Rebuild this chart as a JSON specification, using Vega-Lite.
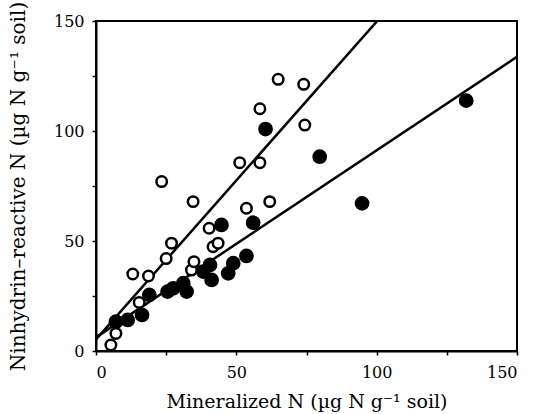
{
  "$schema": "https://vega.github.io/schema/vega-lite/v6.json",
  "autosize": "none",
  "padding": {"left": 96, "top": 21, "right": 22, "bottom": 63},
  "width": 421,
  "height": 330,
  "background": "white",
  "config": {
    "view": {"stroke": "black", "strokeWidth": 2},
    "font": "DejaVu Serif",
    "axis": {
      "domainColor": "black", "domainWidth": 2, "tickColor": "black", "tickWidth": 1.5,
      "tickSize": 4, "grid": false, "labelFont": "DejaVu Serif", "labelFontSize": 16,
      "labelColor": "black", "titleFont": "DejaVu Serif",
      "titleFontWeight": "normal", "titleColor": "black"
    }
  },
  "datasets": {
    "pts": [
      {"x": 5.3, "y": 2.7, "g": "open"}, {"x": 7.1, "y": 8.0, "g": "open"}, {"x": 15.4, "y": 22.1, "g": "open"},
      {"x": 13.1, "y": 35.0, "g": "open"}, {"x": 18.7, "y": 34.1, "g": "open"}, {"x": 25.0, "y": 42.0, "g": "open"},
      {"x": 26.9, "y": 49.0, "g": "open"}, {"x": 34.0, "y": 36.8, "g": "open"}, {"x": 34.9, "y": 40.6, "g": "open"},
      {"x": 23.4, "y": 77.0, "g": "open"}, {"x": 34.6, "y": 67.9, "g": "open"}, {"x": 41.7, "y": 47.4, "g": "open"},
      {"x": 43.5, "y": 49.0, "g": "open"}, {"x": 40.3, "y": 55.8, "g": "open"}, {"x": 53.6, "y": 64.9, "g": "open"},
      {"x": 61.9, "y": 67.9, "g": "open"}, {"x": 51.2, "y": 85.6, "g": "open"}, {"x": 58.4, "y": 85.6, "g": "open"},
      {"x": 58.4, "y": 110.1, "g": "open"}, {"x": 64.9, "y": 123.5, "g": "open"}, {"x": 74.0, "y": 121.2, "g": "open"},
      {"x": 74.4, "y": 102.7, "g": "open"},
      {"x": 7.1, "y": 13.3, "g": "filled"}, {"x": 11.3, "y": 14.1, "g": "filled"}, {"x": 16.4, "y": 16.4, "g": "filled"},
      {"x": 19.0, "y": 25.5, "g": "filled"}, {"x": 25.5, "y": 27.0, "g": "filled"}, {"x": 27.5, "y": 28.5, "g": "filled"},
      {"x": 31.1, "y": 30.8, "g": "filled"}, {"x": 32.3, "y": 27.0, "g": "filled"}, {"x": 38.2, "y": 36.1, "g": "filled"},
      {"x": 40.6, "y": 39.1, "g": "filled"}, {"x": 41.2, "y": 32.3, "g": "filled"}, {"x": 47.1, "y": 35.3, "g": "filled"},
      {"x": 48.9, "y": 39.9, "g": "filled"}, {"x": 53.6, "y": 43.2, "g": "filled"}, {"x": 44.7, "y": 57.3, "g": "filled"},
      {"x": 56.0, "y": 58.3, "g": "filled"}, {"x": 60.4, "y": 100.9, "g": "filled"}, {"x": 79.7, "y": 88.3, "g": "filled"},
      {"x": 94.8, "y": 67.1, "g": "filled"}, {"x": 131.9, "y": 113.8, "g": "filled"}
    ],
    "lines": [
      {"x": 0, "y": 5.3, "g": "open"}, {"x": 100.2, "y": 150, "g": "open"},
      {"x": 0, "y": 6.2, "g": "filled"}, {"x": 150, "y": 133.7, "g": "filled"}
    ]
  },
  "layer": [
    {
      "data": {"name": "lines"},
      "mark": {"type": "line", "color": "black", "strokeWidth": 2.5, "clip": true},
      "encoding": {
        "x": {"field": "x", "type": "quantitative", "scale": {"domain": [0, 150], "nice": false},
          "axis": {"values": [0, 25, 50, 75, 100, 125, 150], "labelExpr": "datum.value % 50 == 0 ? datum.label : ''",
            "labelPadding": 9, "title": "Mineralized N (µg N g⁻¹ soil)", "titleFontSize": 19, "titlePadding": 12}},
        "y": {"field": "y", "type": "quantitative", "scale": {"domain": [0, 150], "nice": false},
          "axis": {"values": [0, 25, 50, 75, 100, 125, 150], "labelExpr": "datum.value % 50 == 0 ? datum.label : ''",
            "labelPadding": 8, "title": "Ninhydrin–reactive N (µg N g⁻¹ soil)", "titleFontSize": 20, "titlePadding": 25}},
        "detail": {"field": "g"}
      }
    },
    {
      "data": {"name": "pts"},
      "mark": {"type": "point", "shape": "circle", "stroke": "black", "strokeWidth": 2.5, "opacity": 1, "filled": false},
      "encoding": {
        "x": {"field": "x", "type": "quantitative"},
        "y": {"field": "y", "type": "quantitative"},
        "fill": {"field": "g", "type": "nominal", "scale": {"domain": ["open", "filled"], "range": ["white", "black"]}, "legend": null},
        "size": {"field": "g", "type": "nominal", "scale": {"domain": ["open", "filled"], "range": [110, 150]}, "legend": null}
      }
    }
  ]
}
